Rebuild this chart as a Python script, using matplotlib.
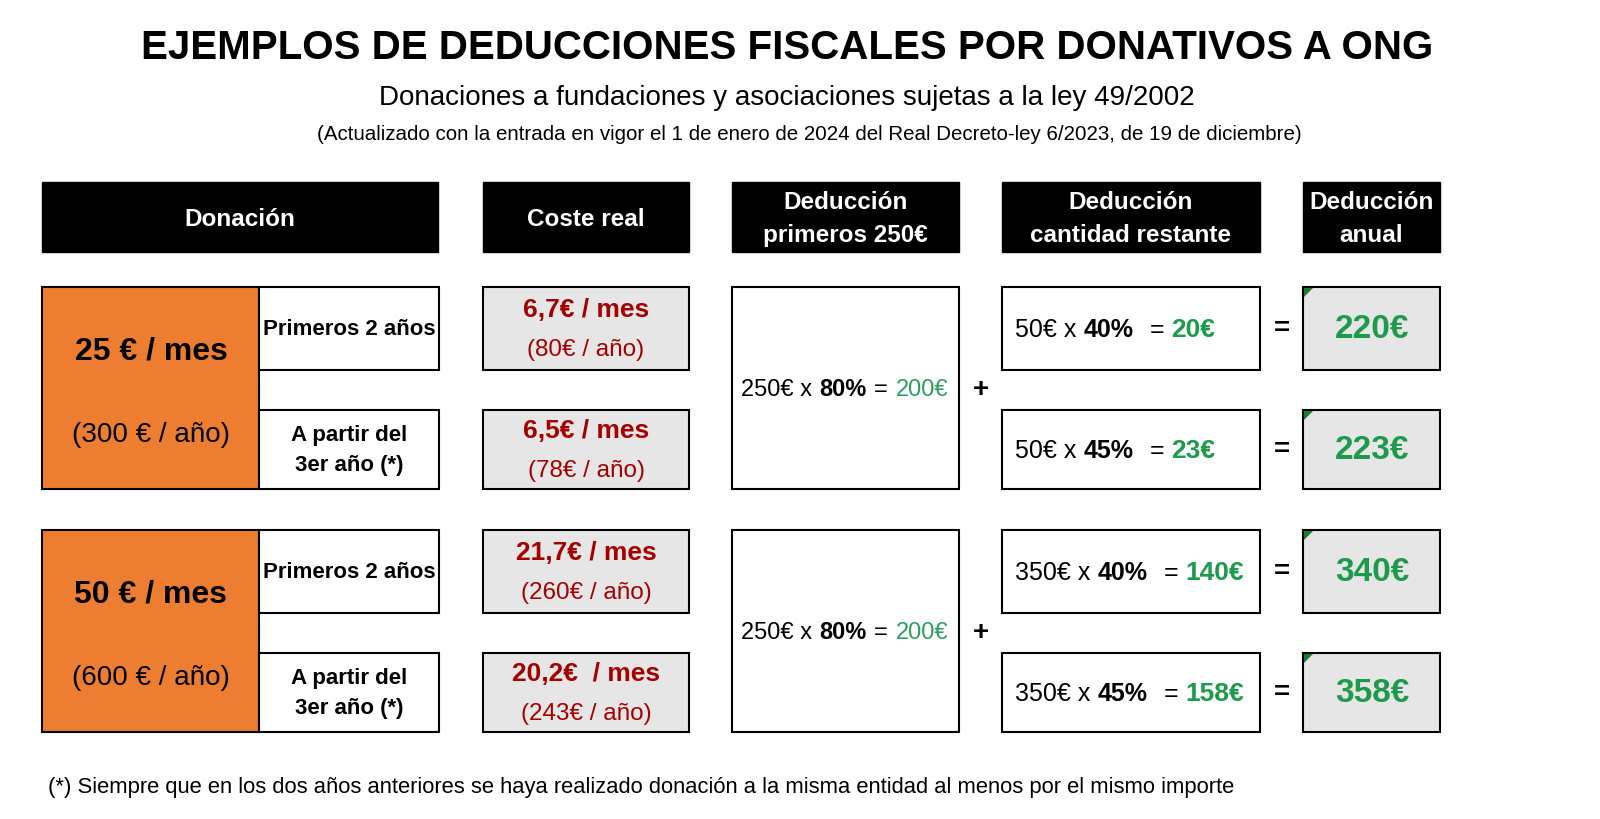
import matplotlib
matplotlib.use("Agg")
import matplotlib.pyplot as plt
from matplotlib.patches import Rectangle, Polygon

# ---- data ----
TITLE = "EJEMPLOS DE DEDUCCIONES FISCALES POR DONATIVOS A ONG"
SUBTITLE = "Donaciones a fundaciones y asociaciones sujetas a la ley 49/2002"
NOTE = ("(Actualizado con la entrada en vigor el 1 de enero de 2024 del "
        "Real Decreto-ley 6/2023, de 19 de diciembre)")
FOOTNOTE = ("(*) Siempre que en los dos años anteriores se haya realizado "
            "donación a la misma entidad al menos por el mismo importe")

headers = ["Donación", "Coste real", "Deducción\nprimeros 250€",
           "Deducción\ncantidad restante", "Deducción\nanual"]
periods = ["Primeros 2 años", "A partir del\n3er año (*)"]

donation_month = [25, 50]
donation_year = [300, 600]
cost_month = [["6,7€ / mes", "6,5€ / mes"], ["21,7€ / mes", "20,2€  / mes"]]
cost_year = [[80, 78], [260, 243]]
first_base = 250
first_rate = 80
first_deduction = [200, 200]
rest_base = [50, 350]
rest_rate = [40, 45]
rest_deduction = [[20, 23], [140, 158]]
annual_deduction = [[220, 223], [340, 358]]

# ---- style ----
NARROW = ["Liberation Sans Narrow", "Liberation Sans", "DejaVu Sans"]
WIDE = ["Liberation Sans", "DejaVu Sans"]
ORANGE = "#ED7D31"
GREY = "#E6E6E6"
RED = "#A50000"
GREEN = "#1E9A4C"
GREEN_LIGHT = "#2E9E5E"

fig = plt.figure(figsize=(16, 8.2), dpi=100)
ax = fig.add_axes([0, 0, 1, 1])
ax.set_xlim(0, 1600)
ax.set_ylim(820, 0)
ax.axis("off")
renderer = fig.canvas.get_renderer()


def box(x0, y0, x1, y1, fc="white", lw=1.5):
    ax.add_patch(Rectangle((x0, y0), x1 - x0, y1 - y0, facecolor=fc,
                           edgecolor="black", linewidth=lw))


def rich(x, y, parts, ha="left"):
    """Draw text pieces one after another on the same baseline."""
    arts = []
    cx = x
    for s, size, weight, color, gap in parts:
        cx += gap
        t = ax.text(cx, y, s, fontsize=size, fontweight=weight, color=color,
                    va="baseline", ha="left", family=NARROW)
        cx += t.get_window_extent(renderer=renderer).width
        arts.append(t)
    if ha == "center":
        shift = (cx - x) / 2
        for t in arts:
            t.set_x(t.get_position()[0] - shift)


# titles
ax.text(787, 48, TITLE, ha="center", va="center", fontsize=29,
        fontweight="bold", family=WIDE)
ax.text(787, 98, SUBTITLE, ha="center", va="center", fontsize=20,
        family=NARROW)
ax.text(809, 134, NOTE, ha="center", va="center", fontsize=14.8,
        family=NARROW)

# header boxes
cols = [(42, 438), (483, 689), (732, 959), (1002, 1260), (1303, 1440)]
for (x0, x1), h in zip(cols, headers):
    ax.add_patch(Rectangle((x0, 183), x1 - x0, 70, facecolor="black",
                           edgecolor="black"))
    ax.text((x0 + x1) / 2, 219, h, ha="center", va="center", color="white",
            fontsize=17.5, fontweight="bold", family=NARROW, linespacing=1.6)

# body
for g in range(2):
    top = 288 + g * 243
    rows = [(top, top + 83), (top + 123, top + 202)]

    # donation block
    box(42, top, 259, top + 202, fc=ORANGE)
    ax.text(151, top + 64, f"{donation_month[g]} € / mes", ha="center",
            va="center", fontsize=23, fontweight="bold", family=NARROW)
    ax.text(151, top + 147, f"({donation_year[g]} € / año)", ha="center",
            va="center", fontsize=20, family=NARROW)

    # first 250 deduction
    box(732, top, 959, top + 202)
    ymid = top + 100
    rich(741, ymid + 8, [
        (f"{first_base}€ x ", 17, "normal", "black", 0),
        (f"{first_rate}%", 17, "bold", "black", 0),
        ("=", 17, "normal", "black", 8),
        (f"{first_deduction[g]}€", 17, "normal", GREEN_LIGHT, 8),
    ])
    ax.text(981, ymid + 2, "+", ha="center", va="center", fontsize=20,
            fontweight="bold", family=NARROW)

    for r, (y0, y1) in enumerate(rows):
        yc = (y0 + y1) / 2
        # period label
        box(259, y0, 439, y1)
        ax.text(349, yc, periods[r], ha="center", va="center", fontsize=16,
                fontweight="bold", family=NARROW, linespacing=1.6)

        # real cost
        box(483, y0, 689, y1, fc=GREY)
        ax.text(586, yc - 19, cost_month[g][r], ha="center",
                va="center", fontsize=19, fontweight="bold", color=RED,
                family=NARROW)
        ax.text(586, yc + 21, f"({cost_year[g][r]}€ / año)", ha="center",
                va="center", fontsize=17.5, color=RED, family=NARROW)

        # remaining deduction
        box(1002, y0, 1260, y1)
        rich(1015, yc + 8, [
            (f"{rest_base[g]}€ x ", 18, "normal", "black", 0),
            (f"{rest_rate[r]}%", 18, "bold", "black", 0),
            ("=", 18, "normal", "black", 16),
            (f"{rest_deduction[g][r]}€", 19, "bold", GREEN, 7),
        ])
        ax.text(1282, yc, "=", ha="center", va="center", fontsize=20,
                fontweight="bold", family=NARROW)

        # annual deduction
        box(1303, y0, 1440, y1, fc=GREY)
        ax.add_patch(Polygon([(1304, y0 + 1), (1313, y0 + 1), (1304, y0 + 10)],
                             closed=True, facecolor="#1C7A2E", edgecolor="none"))
        ax.text(1372, yc, f"{annual_deduction[g][r]}€", ha="center",
                va="center", fontsize=24, fontweight="bold", color=GREEN,
                family=NARROW)

# footnote
ax.text(48, 788, FOOTNOTE, ha="left", va="center", fontsize=15.8,
        family=NARROW)

fig.savefig("out.png", dpi=100, facecolor="white")
